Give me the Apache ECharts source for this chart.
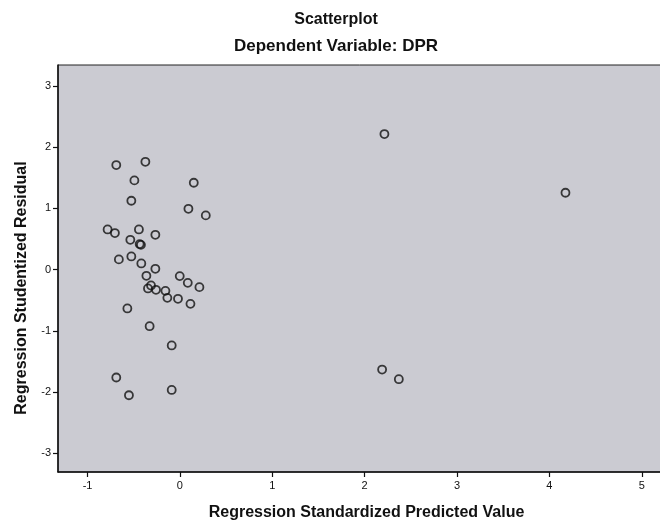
<!DOCTYPE html>
<html>
<head>
<meta charset="utf-8">
<script src="https://cdn.jsdelivr.net/npm/echarts@6/dist/echarts.min.js"></script>
<style>
html,body{margin:0;padding:0;background:#fff;}
#chart{width:660px;height:521px;}
</style>
</head>
<body>
<div id="chart"></div>
<script>
// Regression standardized predicted values (x) and studentized residuals (y)
var predicted = [-0.689,-0.374,-0.493,0.150,-0.526,0.092,0.280,-0.783,-0.704,-0.444,
  -0.537,-0.266,-0.436,-0.422,-0.661,-0.526,-0.418,-0.266,-0.363,-0.002,
  0.085,0.211,-0.346,-0.313,-0.259,-0.157,-0.136,-0.021,0.114,-0.569,
  -0.328,-0.089,-0.689,-0.552,-0.089,2.214,4.174,2.189,2.370];
var residual = [1.708,1.762,1.458,1.419,1.125,0.994,0.886,0.657,0.597,0.657,
  0.487,0.569,0.417,0.405,0.167,0.216,0.101,0.013,-0.101,-0.106,
  -0.216,-0.286,-0.307,-0.258,-0.330,-0.347,-0.461,-0.477,-0.559,-0.634,
  -0.924,-1.239,-1.762,-2.052,-1.965,2.215,1.256,-1.632,-1.790];
var xTicks = [-1,0,1,2,3,4,5];
var yTicks = [-3,-2,-1,0,1,2,3];

var points = predicted.map(function(v,i){ return [v, residual[i]]; });

var chart = echarts.init(document.getElementById('chart'), null, {renderer:'canvas'});
var font = 'Liberation Sans, Arial, sans-serif';
chart.setOption({
  backgroundColor:'#ffffff',
  animation:false,
  title:[
    {text:'Scatterplot', left:331, textAlign:'center', top:7, textStyle:{fontFamily:font,fontSize:16,fontWeight:'bold',color:'#111'}},
    {text:'Dependent Variable: DPR', left:331, textAlign:'center', top:33, textStyle:{fontFamily:font,fontSize:17,fontWeight:'bold',color:'#111'}}
  ],
  graphic:[{
    type:'text', x:22, y:288, rotation:Math.PI/2,
    style:{text:'Regression Studentized Residual', fontFamily:font, fontSize:16, fontWeight:'bold', fill:'#111', align:'center', verticalAlign:'middle'}
  }],
  grid:{left:58, top:65, right:-3, bottom:49, outerBoundsMode:'none', containLabel:false, show:true, backgroundColor:'#cbcbd2', borderColor:'#222', borderWidth:1},
  xAxis:{
    type:'value', min:-1.32, max:5.23,
    name:'Regression Standardized Predicted Value', nameLocation:'middle', nameGap:33,
    nameTextStyle:{fontFamily:font,fontSize:16,fontWeight:'bold',color:'#111',padding:[0,0,0,12]},
    axisLine:{show:true,onZero:false,lineStyle:{color:'#111',width:1.5}},
    axisTick:{show:true,inside:false,length:5,customValues:xTicks,lineStyle:{color:'#111',width:1.2}},
    axisLabel:{customValues:xTicks,fontFamily:font,fontSize:11,color:'#111',margin:8},
    splitLine:{show:false}
  },
  yAxis:{
    type:'value', min:-3.306, max:3.343,
    axisLine:{show:true,onZero:false,lineStyle:{color:'#111',width:1.5}},
    axisTick:{show:true,inside:false,length:5,customValues:yTicks,lineStyle:{color:'#111',width:1.2}},
    axisLabel:{customValues:yTicks,fontFamily:font,fontSize:11,color:'#111',margin:7},
    splitLine:{show:false}
  },
  series:[{
    type:'scatter',
    data:points,
    symbol:'circle',
    symbolSize:8,
    itemStyle:{color:'rgba(0,0,0,0)',borderColor:'#111',borderWidth:1.8}
  }]
});
</script>
</body>
</html>
